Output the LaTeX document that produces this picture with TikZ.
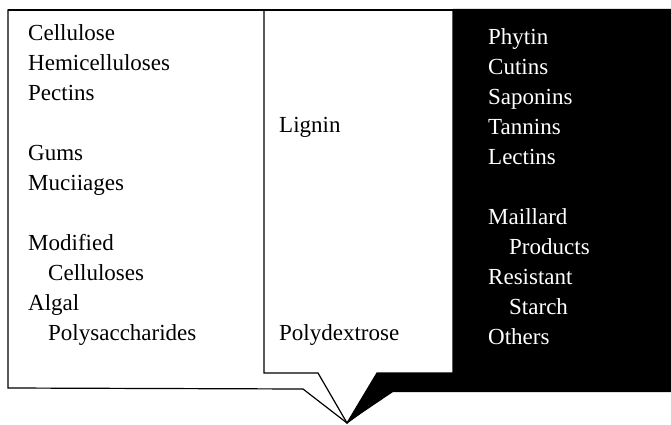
\documentclass[tikz,border=0pt]{standalone}
\usepackage{fontspec}
\setmainfont{Liberation Serif}
\usepackage{tikz}
\usetikzlibrary{positioning}
\definecolor{Ink}{HTML}{000000}
\definecolor{Paper}{HTML}{FFFFFF}
\tikzset{
  panel/.style={draw=Ink,line width=1.2pt,fill=Paper,line join=miter},
  darkpanel/.style={fill=Ink,draw=none},
  col/.style={align=left,inner sep=0pt,anchor=base west,font=\fontsize{23}{30}\selectfont},
  wcol/.style={col,text=Paper},
}
\begin{document}
\begin{tikzpicture}[x=1pt,y=-1pt]
 \useasboundingbox (0,0) rectangle (671,425);
 \coordinate (tip) at (347,423);
 \draw[panel] (8,10) -- (453,10) -- (453,389) -- (393,389) -- (tip) -- (303,389) -- (8,388) -- cycle;
 \draw[panel] (264,10) -- (453,10) -- (453,373) -- (377,373) -- (tip) -- (318,373) -- (264,373) -- cycle;
 \fill[darkpanel] (453,9) -- (671,9) -- (671,392) -- (393,392) -- (tip) -- (377,373) -- (453,373) -- cycle;
 \draw[panel,fill=none] (8,10) -- (671,10);
 % columns are placed by the baseline of their last line
 \node[col] (fibres) at (28,340) {Cellulose\\Hemicelluloses\\Pectins\\[30pt]Gums\\Muciiages\\[30pt]Modified\\\hspace*{20pt}Celluloses\\Algal\\\hspace*{20pt}Polysaccharides};
 \node[col] (lignin) at (279,132) {Lignin};
 \node[col] (polyd) at (279,340) {Polydextrose};
 \node[wcol] (others) at (488,344) {Phytin\\Cutins\\Saponins\\Tannins\\Lectins\\[30pt]Maillard\\\hspace*{21pt}Products\\Resistant\\\hspace*{21pt}Starch\\Others};
\end{tikzpicture}
\end{document}
